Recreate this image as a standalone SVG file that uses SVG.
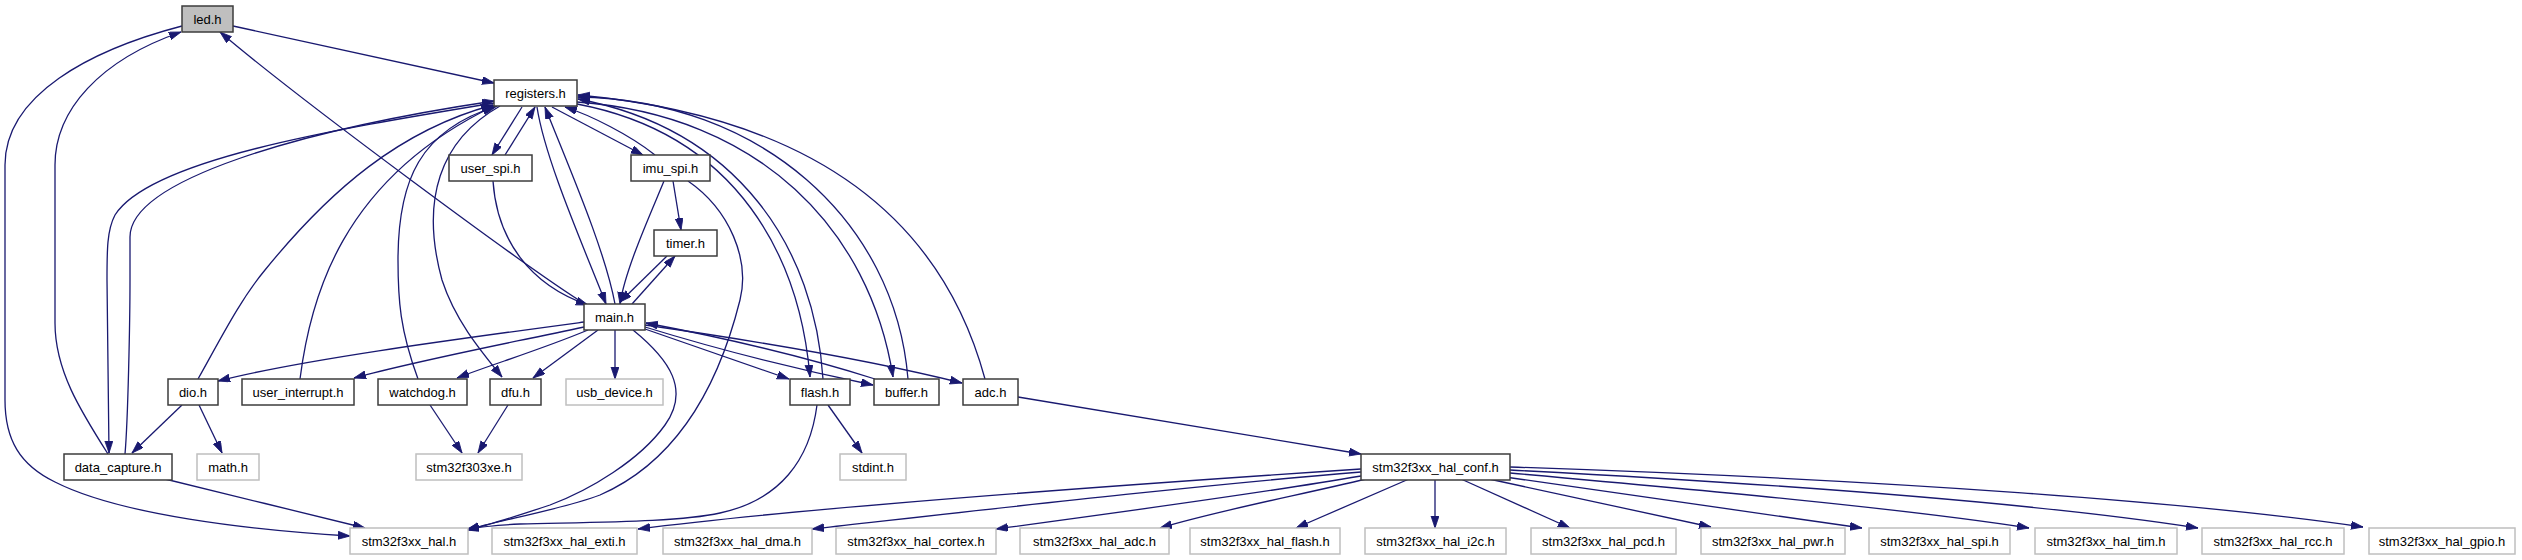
<svg xmlns="http://www.w3.org/2000/svg" width="2522" height="560" viewBox="0 0 2522 560">
<style>
.n rect{fill:#ffffff;stroke:#3c3c3c;stroke-width:1.5}
.g rect{fill:#ffffff;stroke:#bfbfbf;stroke-width:1.5}
.root rect{fill:#bfbfbf;stroke:#3c3c3c;stroke-width:1.5}
text{font-family:"Liberation Sans",Arial,Helvetica,sans-serif;font-size:13px;fill:#000;text-anchor:middle}
#edges path{fill:none;stroke:#191970;stroke-width:1.3;marker-end:url(#ah)}
</style>
<defs>
<marker id="ah" markerUnits="userSpaceOnUse" markerWidth="13" markerHeight="9" refX="12" refY="4" orient="auto">
<path d="M0,0 L12,4 L0,8 z" fill="#191970" stroke="#191970" stroke-width="0.8"/>
</marker>
</defs>
<rect width="2522" height="560" fill="#ffffff"/>
<g id="edges">
<path d="M233,26 L494,83"/>
<path d="M182,26 C90,50 5,95 5,165 L5,400 C5,440 20,465 55,482 C120,515 250,530 350,536"/>
<path d="M108,454 C80,410 55,370 55,323 L55,165 C55,110 100,60 181,32"/>
<path d="M494,103 C330,130 150,160 115,215 C107,230 107,250 107,280 L109,453"/>
<path d="M125,454 C128,420 130,320 130,280 L130,237 C130,180 300,130 494,101"/>
<path d="M585,304 C530,270 300,100 220,32"/>
<path d="M198,379 C220,340 240,300 265,270 C330,190 400,130 493,105"/>
<path d="M300,379 C310,300 340,180 494,106"/>
<path d="M418,379 C400,330 398,300 398,260 C398,180 420,130 497,106"/>
<path d="M500,106 C440,140 420,200 442,280 C455,320 480,350 502,377"/>
<path d="M522,107 L492,155"/>
<path d="M505,155 L535,107"/>
<path d="M537,107 C545,160 585,250 606,304"/>
<path d="M615,304 C605,250 570,170 545,107"/>
<path d="M552,107 L643,155"/>
<path d="M655,155 C630,135 590,115 565,107"/>
<path d="M493,181 C497,240 530,285 588,305"/>
<path d="M664,181 C650,215 625,270 620,304"/>
<path d="M673,181 L681,230"/>
<path d="M667,256 L620,302"/>
<path d="M632,304 L675,256"/>
<path d="M688,181 C730,210 750,260 740,300 C720,380 680,460 600,495 C560,510 500,520 467,530"/>
<path d="M633,330 C670,360 690,390 665,425 C640,460 590,490 550,505 C520,515 490,525 467,530"/>
<path d="M817,405 C810,460 780,500 720,513 C680,522 600,522 520,524 C500,525 480,527 467,529"/>
<path d="M584,322 C450,340 300,360 218,381"/>
<path d="M584,327 C500,345 420,360 354,378"/>
<path d="M588,330 C540,350 490,365 457,378"/>
<path d="M598,330 L533,378"/>
<path d="M615,330 L615,379"/>
<path d="M645,329 L789,379"/>
<path d="M645,327 C720,350 800,370 873,385"/>
<path d="M875,379 C800,355 720,337 646,323"/>
<path d="M645,325 C750,340 870,360 962,383"/>
<path d="M577,104 C740,135 800,260 810,377"/>
<path d="M823,379 C815,250 740,130 578,99"/>
<path d="M577,102 C760,115 870,230 893,377"/>
<path d="M908,379 C895,220 760,100 578,97"/>
<path d="M985,379 C950,250 850,120 578,95"/>
<path d="M828,405 L862,453"/>
<path d="M182,405 L132,453"/>
<path d="M199,405 L222,453"/>
<path d="M430,405 L462,453"/>
<path d="M508,405 L478,453"/>
<path d="M165,479 C230,495 300,512 365,528"/>
<path d="M1018,397 L1361,454"/>
<path d="M1361,469 C1150,483 800,508 638,529"/>
<path d="M1361,472 C1200,485 1000,508 812,529"/>
<path d="M1361,476 C1250,495 1100,515 996,529"/>
<path d="M1366,479 C1300,495 1220,510 1160,528"/>
<path d="M1409,479 L1296,528"/>
<path d="M1435,479 L1435,528"/>
<path d="M1461,479 L1570,528"/>
<path d="M1489,479 L1711,527"/>
<path d="M1505,477 L1862,528"/>
<path d="M1510,473 C1700,490 1900,508 2029,528"/>
<path d="M1510,470 C1800,485 2050,505 2198,528"/>
<path d="M1510,467 C1900,480 2200,503 2363,527"/>
</g>
<g id="led_h" class="root"><rect x="182" y="6" width="51" height="26"/><text x="207.5" y="24">led.h</text></g>
<g id="registers_h" class="n"><rect x="494" y="80" width="83" height="26"/><text x="535.5" y="98">registers.h</text></g>
<g id="user_spi_h" class="n"><rect x="449" y="155" width="83" height="26"/><text x="490.5" y="173">user_spi.h</text></g>
<g id="imu_spi_h" class="n"><rect x="631" y="155" width="79" height="26"/><text x="670.5" y="173">imu_spi.h</text></g>
<g id="timer_h" class="n"><rect x="654" y="230" width="63" height="26"/><text x="685.5" y="248">timer.h</text></g>
<g id="main_h" class="n"><rect x="584" y="304" width="61" height="26"/><text x="614.5" y="322">main.h</text></g>
<g id="dio_h" class="n"><rect x="168" y="379" width="50" height="26"/><text x="193" y="397">dio.h</text></g>
<g id="user_interrupt_h" class="n"><rect x="242" y="379" width="112" height="26"/><text x="298" y="397">user_interrupt.h</text></g>
<g id="watchdog_h" class="n"><rect x="378" y="379" width="89" height="26"/><text x="422.5" y="397">watchdog.h</text></g>
<g id="dfu_h" class="n"><rect x="490" y="379" width="51" height="26"/><text x="515.5" y="397">dfu.h</text></g>
<g id="usb_device_h" class="g"><rect x="566" y="379" width="97" height="26"/><text x="614.5" y="397">usb_device.h</text></g>
<g id="flash_h" class="n"><rect x="790" y="379" width="60" height="26"/><text x="820" y="397">flash.h</text></g>
<g id="buffer_h" class="n"><rect x="874" y="379" width="65" height="26"/><text x="906.5" y="397">buffer.h</text></g>
<g id="adc_h" class="n"><rect x="963" y="379" width="55" height="26"/><text x="990.5" y="397">adc.h</text></g>
<g id="data_capture_h" class="n"><rect x="64" y="454" width="108" height="26"/><text x="118" y="472">data_capture.h</text></g>
<g id="math_h" class="g"><rect x="197" y="454" width="62" height="26"/><text x="228" y="472">math.h</text></g>
<g id="stm32f303xe_h" class="g"><rect x="416" y="454" width="106" height="26"/><text x="469" y="472">stm32f303xe.h</text></g>
<g id="stdint_h" class="g"><rect x="840" y="454" width="66" height="26"/><text x="873" y="472">stdint.h</text></g>
<g id="stm32f3xx_hal_conf_h" class="n"><rect x="1361" y="454" width="149" height="26"/><text x="1435.5" y="472">stm32f3xx_hal_conf.h</text></g>
<g id="stm32f3xx_hal_h" class="g"><rect x="350" y="528" width="118" height="26"/><text x="409" y="546">stm32f3xx_hal.h</text></g>
<g id="stm32f3xx_hal_exti_h" class="g"><rect x="492" y="528" width="145" height="26"/><text x="564.5" y="546">stm32f3xx_hal_exti.h</text></g>
<g id="stm32f3xx_hal_dma_h" class="g"><rect x="663" y="528" width="149" height="26"/><text x="737.5" y="546">stm32f3xx_hal_dma.h</text></g>
<g id="stm32f3xx_hal_cortex_h" class="g"><rect x="836" y="528" width="160" height="26"/><text x="916" y="546">stm32f3xx_hal_cortex.h</text></g>
<g id="stm32f3xx_hal_adc_h" class="g"><rect x="1020" y="528" width="149" height="26"/><text x="1094.5" y="546">stm32f3xx_hal_adc.h</text></g>
<g id="stm32f3xx_hal_flash_h" class="g"><rect x="1190" y="528" width="150" height="26"/><text x="1265" y="546">stm32f3xx_hal_flash.h</text></g>
<g id="stm32f3xx_hal_i2c_h" class="g"><rect x="1365" y="528" width="141" height="26"/><text x="1435.5" y="546">stm32f3xx_hal_i2c.h</text></g>
<g id="stm32f3xx_hal_pcd_h" class="g"><rect x="1531" y="528" width="145" height="26"/><text x="1603.5" y="546">stm32f3xx_hal_pcd.h</text></g>
<g id="stm32f3xx_hal_pwr_h" class="g"><rect x="1701" y="528" width="144" height="26"/><text x="1773" y="546">stm32f3xx_hal_pwr.h</text></g>
<g id="stm32f3xx_hal_spi_h" class="g"><rect x="1869" y="528" width="141" height="26"/><text x="1939.5" y="546">stm32f3xx_hal_spi.h</text></g>
<g id="stm32f3xx_hal_tim_h" class="g"><rect x="2035" y="528" width="142" height="26"/><text x="2106" y="546">stm32f3xx_hal_tim.h</text></g>
<g id="stm32f3xx_hal_rcc_h" class="g"><rect x="2202" y="528" width="142" height="26"/><text x="2273" y="546">stm32f3xx_hal_rcc.h</text></g>
<g id="stm32f3xx_hal_gpio_h" class="g"><rect x="2369" y="528" width="146" height="26"/><text x="2442" y="546">stm32f3xx_hal_gpio.h</text></g>
</svg>
